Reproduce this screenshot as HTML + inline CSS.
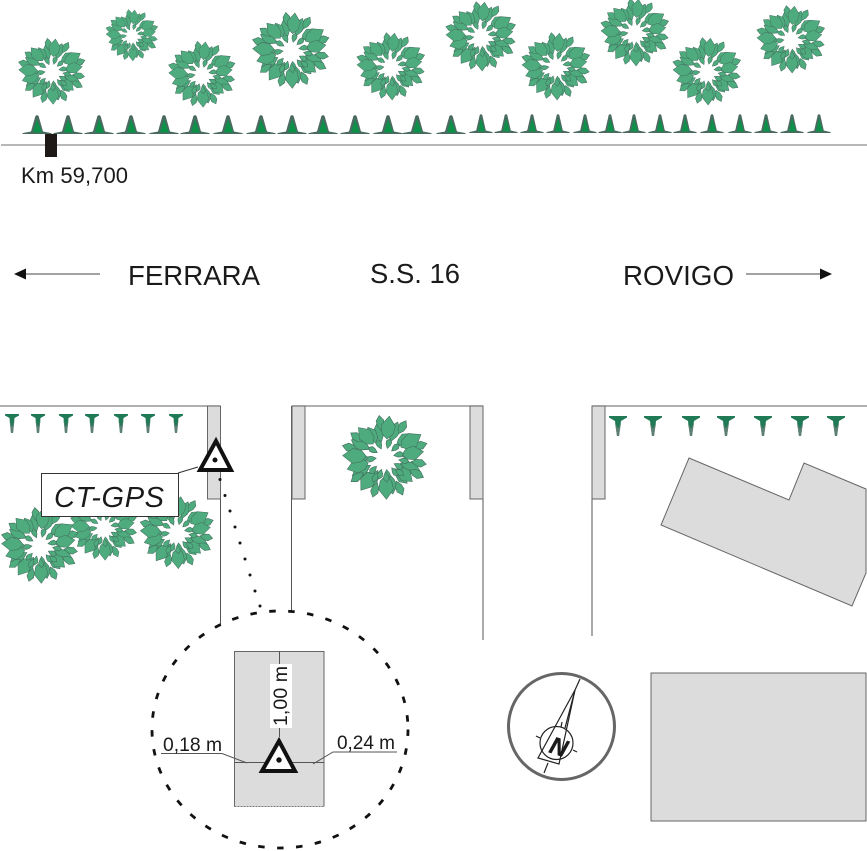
<!DOCTYPE html>
<html><head><meta charset="utf-8"><style>
html,body{margin:0;padding:0;background:#fff}
svg{display:block}
text{font-family:"Liberation Sans",sans-serif;fill:#1a1a1a}
</style></head><body>
<svg xmlns="http://www.w3.org/2000/svg" width="867" height="851" viewBox="0 0 867 851">
<defs>
<path id="b" d="M0,-34 L6,-26 L4.5,-19 L0,-15 L-4.5,-19 L-6,-26Z"/>
<path id="s" d="M0,-33 L3,-29 L2.5,-25 L0,-21 L-2.5,-25 L-3,-29Z"/>
<path id="m" d="M0,-27 L4,-22 L3,-17 L0,-12 L-3,-17 L-4,-22Z"/>
<path id="i" d="M0,-15 L2.2,-12.5 L1.8,-10 L0,-7 L-1.8,-10 L-2.2,-12.5Z"/>
<g id="tree" fill="#4dab7d" stroke="#44705f" stroke-width=".5">
<use href="#m" transform="rotate(-14)"/><use href="#m" transform="rotate(20) scale(1.08)"/><use href="#m" transform="rotate(47)"/><use href="#m" transform="rotate(84)"/><use href="#m" transform="rotate(112) scale(1.1)"/><use href="#m" transform="rotate(140)"/><use href="#m" transform="rotate(168) scale(1.1)"/><use href="#m" transform="rotate(208)"/><use href="#m" transform="rotate(240) scale(1.1)"/><use href="#m" transform="rotate(266)"/><use href="#m" transform="rotate(297) scale(1.1)"/><use href="#m" transform="rotate(330)"/>
<use href="#s" transform="rotate(30)"/><use href="#s" transform="rotate(72) scale(1.05)"/><use href="#s" transform="rotate(100)"/><use href="#s" transform="rotate(118) scale(1.04)"/><use href="#s" transform="rotate(155)"/><use href="#s" transform="rotate(197)"/><use href="#s" transform="rotate(234)"/><use href="#s" transform="rotate(285) scale(1.05)"/><use href="#s" transform="rotate(305)"/><use href="#s" transform="rotate(352)"/>
<use href="#b" transform="rotate(6) scale(.95)"/><use href="#b" transform="rotate(58) scale(.98)"/><use href="#b" transform="rotate(82) scale(.9)"/><use href="#b" transform="rotate(132) scale(.85)"/><use href="#b" transform="rotate(178) scale(.98)"/><use href="#b" transform="rotate(216) scale(.95)"/><use href="#b" transform="rotate(252) scale(.92)"/><use href="#b" transform="rotate(272) scale(.98)"/><use href="#b" transform="rotate(318) scale(.92)"/>
<use href="#i" transform="rotate(15)"/><use href="#i" transform="rotate(48)"/><use href="#i" transform="rotate(80)"/><use href="#i" transform="translate(1,2) rotate(118)"/><use href="#i" transform="translate(1,3) rotate(142)"/><use href="#i" transform="translate(0,3) rotate(170)"/><use href="#i" transform="translate(-1,3) rotate(195)"/><use href="#i" transform="translate(-2,2) rotate(222)"/><use href="#i" transform="rotate(262)"/><use href="#i" transform="rotate(300)"/><use href="#i" transform="rotate(335)"/>
<use href="#i" transform="translate(-1,5) rotate(170)"/><use href="#i" transform="translate(-3,6) rotate(205)"/><use href="#i" transform="translate(3,5) rotate(130)"/><use href="#i" transform="translate(4,1) rotate(100)"/>
</g>
<g id="cone">
<path d="M-15,19 L-14,18 L-6,16.5 L-1.6,1 L0,0 L1.6,1 L6,16.5 L14,18 L15,19Z" fill="#4a6a60"/>
<path d="M0,4 L5,17.5 L-4,17.5Z" fill="#0d9049"/>
</g>
<g id="t1"><path d="M-7,0 L7,0 L7,1.5 L2.5,4 L1,19 L-1,19 L-2.5,4 L-7,1.5Z" fill="#1f7a55"/><path d="M-1,19 L1,19 L2.5,6 L0.5,12 L-.5,12 L-2.5,6Z" fill="#5e7f73"/></g>
<g id="t2"><path d="M-9,0 L9,0 L9,1.5 L3,5 L1,20 L-1,20 L-3,5 L-9,1.5Z" fill="#1f7a55"/><path d="M-1,20 L1,20 L3,7 L0.5,12 L-.5,12 L-3,7Z" fill="#5e7f73"/></g>
</defs>
<rect width="867" height="851" fill="#fff"/>

<!-- top trees -->
<use href="#tree" transform="translate(52,71)"/>
<use href="#tree" transform="translate(132,35) scale(.78)"/>
<use href="#tree" transform="translate(202,74)"/>
<use href="#tree" transform="translate(291,50) scale(1.15)"/>
<use href="#tree" transform="translate(391,66) scale(1.02)"/>
<use href="#tree" transform="translate(481,36) scale(1.05)"/>
<use href="#tree" transform="translate(556,66) scale(1.02)"/>
<use href="#tree" transform="translate(635,32) scale(1.02)"/>
<use href="#tree" transform="translate(707,71) scale(1.02)"/>
<use href="#tree" transform="translate(791,39) scale(1.02)"/>

<!-- cones -->
<g>
<use href="#cone" x="37" y="115"/><use href="#cone" x="68" y="115"/><use href="#cone" x="99" y="115"/><use href="#cone" x="131" y="115"/><use href="#cone" x="164" y="115"/><use href="#cone" x="195" y="115"/><use href="#cone" x="228" y="115"/><use href="#cone" x="261" y="115"/><use href="#cone" x="292" y="115"/><use href="#cone" x="323" y="115"/><use href="#cone" x="355" y="115"/><use href="#cone" x="388" y="115"/><use href="#cone" x="417" y="115"/><use href="#cone" x="451" y="115"/>
<use href="#cone" transform="translate(481,114) scale(.8,1)"/><use href="#cone" transform="translate(506,114) scale(.8,1)"/><use href="#cone" transform="translate(532,114) scale(.8,1)"/><use href="#cone" transform="translate(558,114) scale(.8,1)"/><use href="#cone" transform="translate(585,114) scale(.8,1)"/><use href="#cone" transform="translate(610,114) scale(.8,1)"/><use href="#cone" transform="translate(634,114) scale(.8,1)"/><use href="#cone" transform="translate(660,114) scale(.8,1)"/><use href="#cone" transform="translate(685,114) scale(.8,1)"/><use href="#cone" transform="translate(712,114) scale(.8,1)"/><use href="#cone" transform="translate(740,114) scale(.8,1)"/><use href="#cone" transform="translate(766,114) scale(.8,1)"/><use href="#cone" transform="translate(792,114) scale(.8,1)"/><use href="#cone" transform="translate(819,114) scale(.8,1)"/>
</g>
<line x1="1" y1="145" x2="867" y2="145" stroke="#8c8c8c" stroke-width="1.3"/>
<rect x="45" y="134" width="12" height="23" fill="#1f1a17"/>
<text x="21" y="183" font-size="22" textLength="107" lengthAdjust="spacing">Km 59,700</text>

<!-- labels -->
<text x="128" y="285" font-size="27.6" textLength="132" lengthAdjust="spacing">FERRARA</text>
<text x="370" y="283" font-size="27.4" textLength="90" lengthAdjust="spacing">S.S. 16</text>
<text x="623" y="285" font-size="27.7" textLength="111" lengthAdjust="spacing">ROVIGO</text>
<line x1="25" y1="274" x2="100" y2="274" stroke="#444" stroke-width="1"/>
<path d="M14,274 L26,268.5 L26,279.5Z" fill="#111"/>
<line x1="746" y1="274" x2="821" y2="274" stroke="#444" stroke-width="1"/>
<path d="M832,274 L820,268.5 L820,279.5Z" fill="#111"/>

<!-- road edges -->
<g fill="none" stroke="#808080" stroke-width="1.2">
<line x1="0" y1="406" x2="220" y2="406"/>
<line x1="292" y1="406" x2="483" y2="406"/>
<line x1="592" y1="406" x2="867" y2="406"/>
</g>
<g stroke="#555" stroke-width="1">
<line x1="220.5" y1="406" x2="220.5" y2="625"/>
<line x1="291.5" y1="406" x2="291.5" y2="612"/>
<line x1="483" y1="406" x2="483" y2="640"/>
<line x1="592" y1="406" x2="592" y2="636"/>
</g>
<g fill="#dcdcdc" stroke="#666" stroke-width="1">
<rect x="207.5" y="406" width="13" height="93"/>
<rect x="292" y="406" width="13" height="93"/>
<rect x="470" y="406" width="13" height="93"/>
<rect x="592" y="406" width="13" height="93"/>
<polygon points="689,458 789,500 804,463 866,489 866,573 852,606 661,525"/>
<rect x="651" y="673" width="215" height="148"/>
</g>

<!-- T trees -->
<use href="#t1" x="12" y="414"/><use href="#t1" x="38" y="414"/><use href="#t1" x="66" y="414"/><use href="#t1" x="92" y="414"/><use href="#t1" x="121" y="414"/><use href="#t1" x="148" y="414"/><use href="#t1" x="176" y="414"/>
<use href="#t2" x="618" y="416"/><use href="#t2" x="653" y="416"/><use href="#t2" x="691" y="416"/><use href="#t2" x="726" y="416"/><use href="#t2" x="763" y="416"/><use href="#t2" x="800" y="416"/><use href="#t2" x="836" y="416"/>

<!-- lower trees -->
<use href="#tree" transform="translate(385,457) scale(1.27)"/>
<use href="#tree" transform="translate(104,527) scale(1.0)"/>
<use href="#tree" transform="translate(40,545) scale(1.15)"/>
<use href="#tree" transform="translate(177,532) scale(1.1)"/>

<!-- CT-GPS -->
<line x1="178" y1="473" x2="198" y2="467" stroke="#333" stroke-width="1"/>
<rect x="41.5" y="473.5" width="137" height="43" fill="#fff" stroke="#333" stroke-width="1"/>
<text x="54" y="507" font-size="29" font-style="italic" textLength="110" lengthAdjust="spacing">CT-GPS</text>
<polygon points="216,441 231,470 200,470" fill="#fff" stroke="#111" stroke-width="4"/>
<circle cx="215" cy="460" r="2.5" fill="#111"/>
<g fill="#111">
<circle cx="220" cy="479.5" r="1.5"/><circle cx="225" cy="495.5" r="1.5"/><circle cx="230" cy="511" r="1.5"/><circle cx="235" cy="527" r="1.5"/><circle cx="240" cy="543" r="1.5"/><circle cx="245" cy="559" r="1.5"/><circle cx="250" cy="575" r="1.5"/><circle cx="255" cy="591" r="1.5"/><circle cx="260" cy="606" r="1.5"/>
</g>

<!-- detail -->
<rect x="234.5" y="651.5" width="89.5" height="155" fill="#dcdcdc"/>
<path d="M234.5,806.5 V651.5 H324 V806.5" fill="none" stroke="#666" stroke-width="1"/>
<line x1="234.5" y1="806.5" x2="324" y2="806.5" stroke="#777" stroke-width="1" stroke-dasharray="2 1"/>
<line x1="279.5" y1="651" x2="279.5" y2="737" stroke="#555" stroke-width="1"/>
<line x1="234.5" y1="762.5" x2="324" y2="762.5" stroke="#555" stroke-width="1"/>
<rect x="270" y="664" width="22" height="64" fill="#fff"/>
<text transform="translate(287,726) rotate(-90)" font-size="19.5" textLength="60" lengthAdjust="spacing">1,00 m</text>
<polyline points="161,753.5 222,753.5 247,763" fill="none" stroke="#555" stroke-width="1"/>
<polyline points="397,752 333,752 313,764" fill="none" stroke="#555" stroke-width="1"/>
<text x="163" y="751" font-size="19.3" textLength="59" lengthAdjust="spacing">0,18 m</text>
<text x="337" y="749" font-size="19" textLength="58" lengthAdjust="spacing">0,24 m</text>
<polygon points="279,741 295,771 262,771" fill="#fff" stroke="#111" stroke-width="4"/>
<circle cx="279" cy="760" r="2.7" fill="#111"/>
<ellipse cx="280" cy="729.5" rx="128" ry="118.5" fill="none" stroke="#111" stroke-width="2.8" stroke-dasharray="6.5 12.5"/>

<!-- compass -->
<circle cx="561.5" cy="726.5" r="53" fill="#fff" stroke="#666" stroke-width="3"/>
<g fill="none" stroke="#222" stroke-width="1.2">
<circle cx="556.5" cy="743" r="16.5"/>
<polygon points="575,690 538,758 559,764"/>
<line x1="575" y1="690" x2="565" y2="728"/>
<line x1="580" y1="679" x2="575" y2="690"/>
<line x1="548" y1="763" x2="544" y2="773"/>
<line x1="536" y1="736" x2="540" y2="738"/>
<line x1="573" y1="750" x2="577" y2="752"/>
<line x1="562" y1="722" x2="561" y2="727"/>
</g>
<text transform="translate(548,752) rotate(18)" font-size="24" font-weight="bold" font-style="italic" stroke="#1a1a1a" stroke-width=".4">N</text>
</svg>
</body></html>
